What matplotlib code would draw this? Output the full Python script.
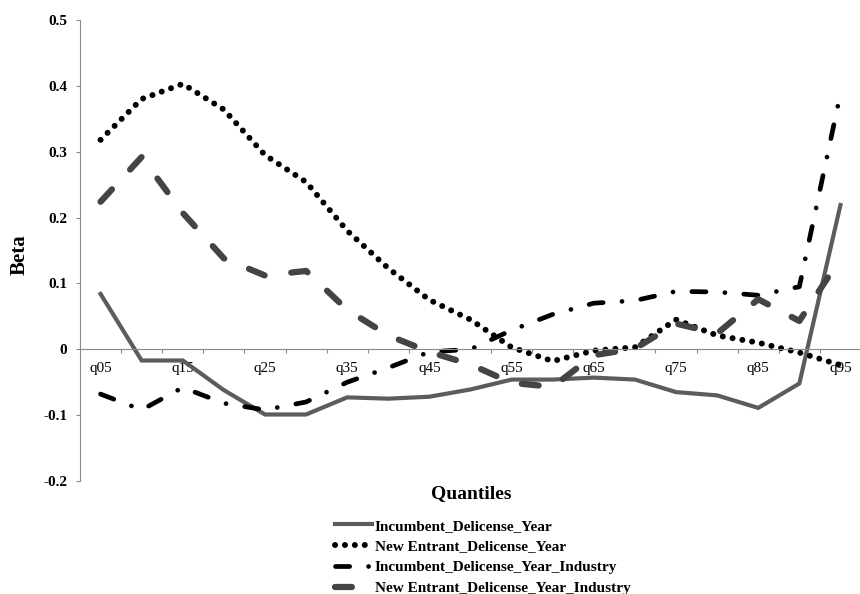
import matplotlib
matplotlib.use("Agg")
import matplotlib.pyplot as plt
import numpy as np

# quantile categories (every other one gets a label, like Excel's auto skip)
quantiles = ["q05", "q10", "q15", "q20", "q25", "q30", "q35", "q40", "q45", "q50",
             "q55", "q60", "q65", "q70", "q75", "q80", "q85", "q90", "q95"]

incumbent_year = [0.084, -0.017, -0.017, -0.062, -0.099, -0.099, -0.073, -0.075, -0.072, -0.061,
                  -0.046, -0.046, -0.043, -0.046, -0.065, -0.070, -0.089, -0.052, 0.219]
new_entrant_year = [0.318, 0.380, 0.403, 0.364, 0.295, 0.254, 0.180, 0.123, 0.075, 0.045,
                    0.003, -0.018, -0.002, 0.003, 0.045, 0.021, 0.010, -0.005, -0.024]
incumbent_year_ind = [-0.068, -0.092, -0.058, -0.082, -0.092, -0.080, -0.050, -0.028, -0.004, 0.000,
                      0.029, 0.053, 0.070, 0.074, 0.088, 0.087, 0.082, 0.095, 0.388]
new_entrant_year_ind = [0.224, 0.292, 0.207, 0.138, 0.112, 0.119, 0.060, 0.021, -0.004, -0.023,
                        -0.051, -0.057, -0.009, 0.001, 0.039, 0.024, 0.076, 0.043, 0.138]

labels = ["Incumbent_Delicense_Year", "New Entrant_Delicense_Year",
          "Incumbent_Delicense_Year_Industry", "New Entrant_Delicense_Year_Industry"]

plt.rcParams["font.family"] = ["Liberation Serif", "DejaVu Serif"]

fig = plt.figure(figsize=(8.6, 5.94), dpi=100)
ax = fig.add_axes([80 / 860, 113 / 594, 781 / 860, 461 / 594])

x = np.arange(len(quantiles))

ax.plot(x, incumbent_year, color="#5c5c5c", lw=3.0, solid_joinstyle="miter",
        label=labels[0])
ax.plot(x, new_entrant_year, color="black", lw=4.3, linestyle=(0, (0.01, 1.65)),
        dash_capstyle="round", label=labels[1])
ax.plot(x, incumbent_year_ind, color="black", lw=3.4,
        linestyle=(0, (3.0, 4.0, 0.01, 4.0)), dash_capstyle="round", label=labels[2])
ax.plot(x, new_entrant_year_ind, color="#444444", lw=4.5,
        linestyle=(0, (2.7, 4.3)), dash_capstyle="round", label=labels[3])

ax.set_xlim(-0.5, len(quantiles) - 0.5)
ax.set_ylim(-0.2, 0.5)

# axes look
for side in ["top", "right"]:
    ax.spines[side].set_visible(False)
ax.spines["left"].set_color("#8a8a8a")
ax.spines["bottom"].set_color("#8a8a8a")
ax.spines["bottom"].set_position(("data", 0))

ax.set_yticks(np.arange(-0.2, 0.51, 0.1))
ax.set_yticklabels(["-0.2", "-0.1", "0", "0.1", "0.2", "0.3", "0.4", "0.5"],
                   fontsize=11, fontweight="bold")
ax.tick_params(axis="y", direction="out", length=3, width=0.8, color="#8a8a8a", pad=6)

ax.set_xticks(x[::2])
ax.set_xticklabels(quantiles[::2], fontsize=11)
ax.tick_params(axis="x", which="major", length=0, pad=9)
ax.set_xticks(np.arange(0.5, len(quantiles) - 1, 1), minor=True)
ax.tick_params(axis="x", which="minor", direction="out", length=3, width=0.8, color="#8a8a8a")

fig.text(20 / 860, 1 - 255 / 594, "Beta", rotation=90, fontsize=15, fontweight="bold",
         ha="center", va="center")
fig.text(471 / 860, 1 - 494 / 594, "Quantiles", fontsize=14, fontweight="bold",
         ha="center", va="center")

fig.legend(loc="center", bbox_to_anchor=(483 / 860, 1 - 557 / 594), frameon=False,
           prop={"size": 11, "weight": "bold"}, handlelength=2.4, handletextpad=0.2,
           labelspacing=0.46, borderpad=0)

fig.savefig("out.png", dpi=100)
